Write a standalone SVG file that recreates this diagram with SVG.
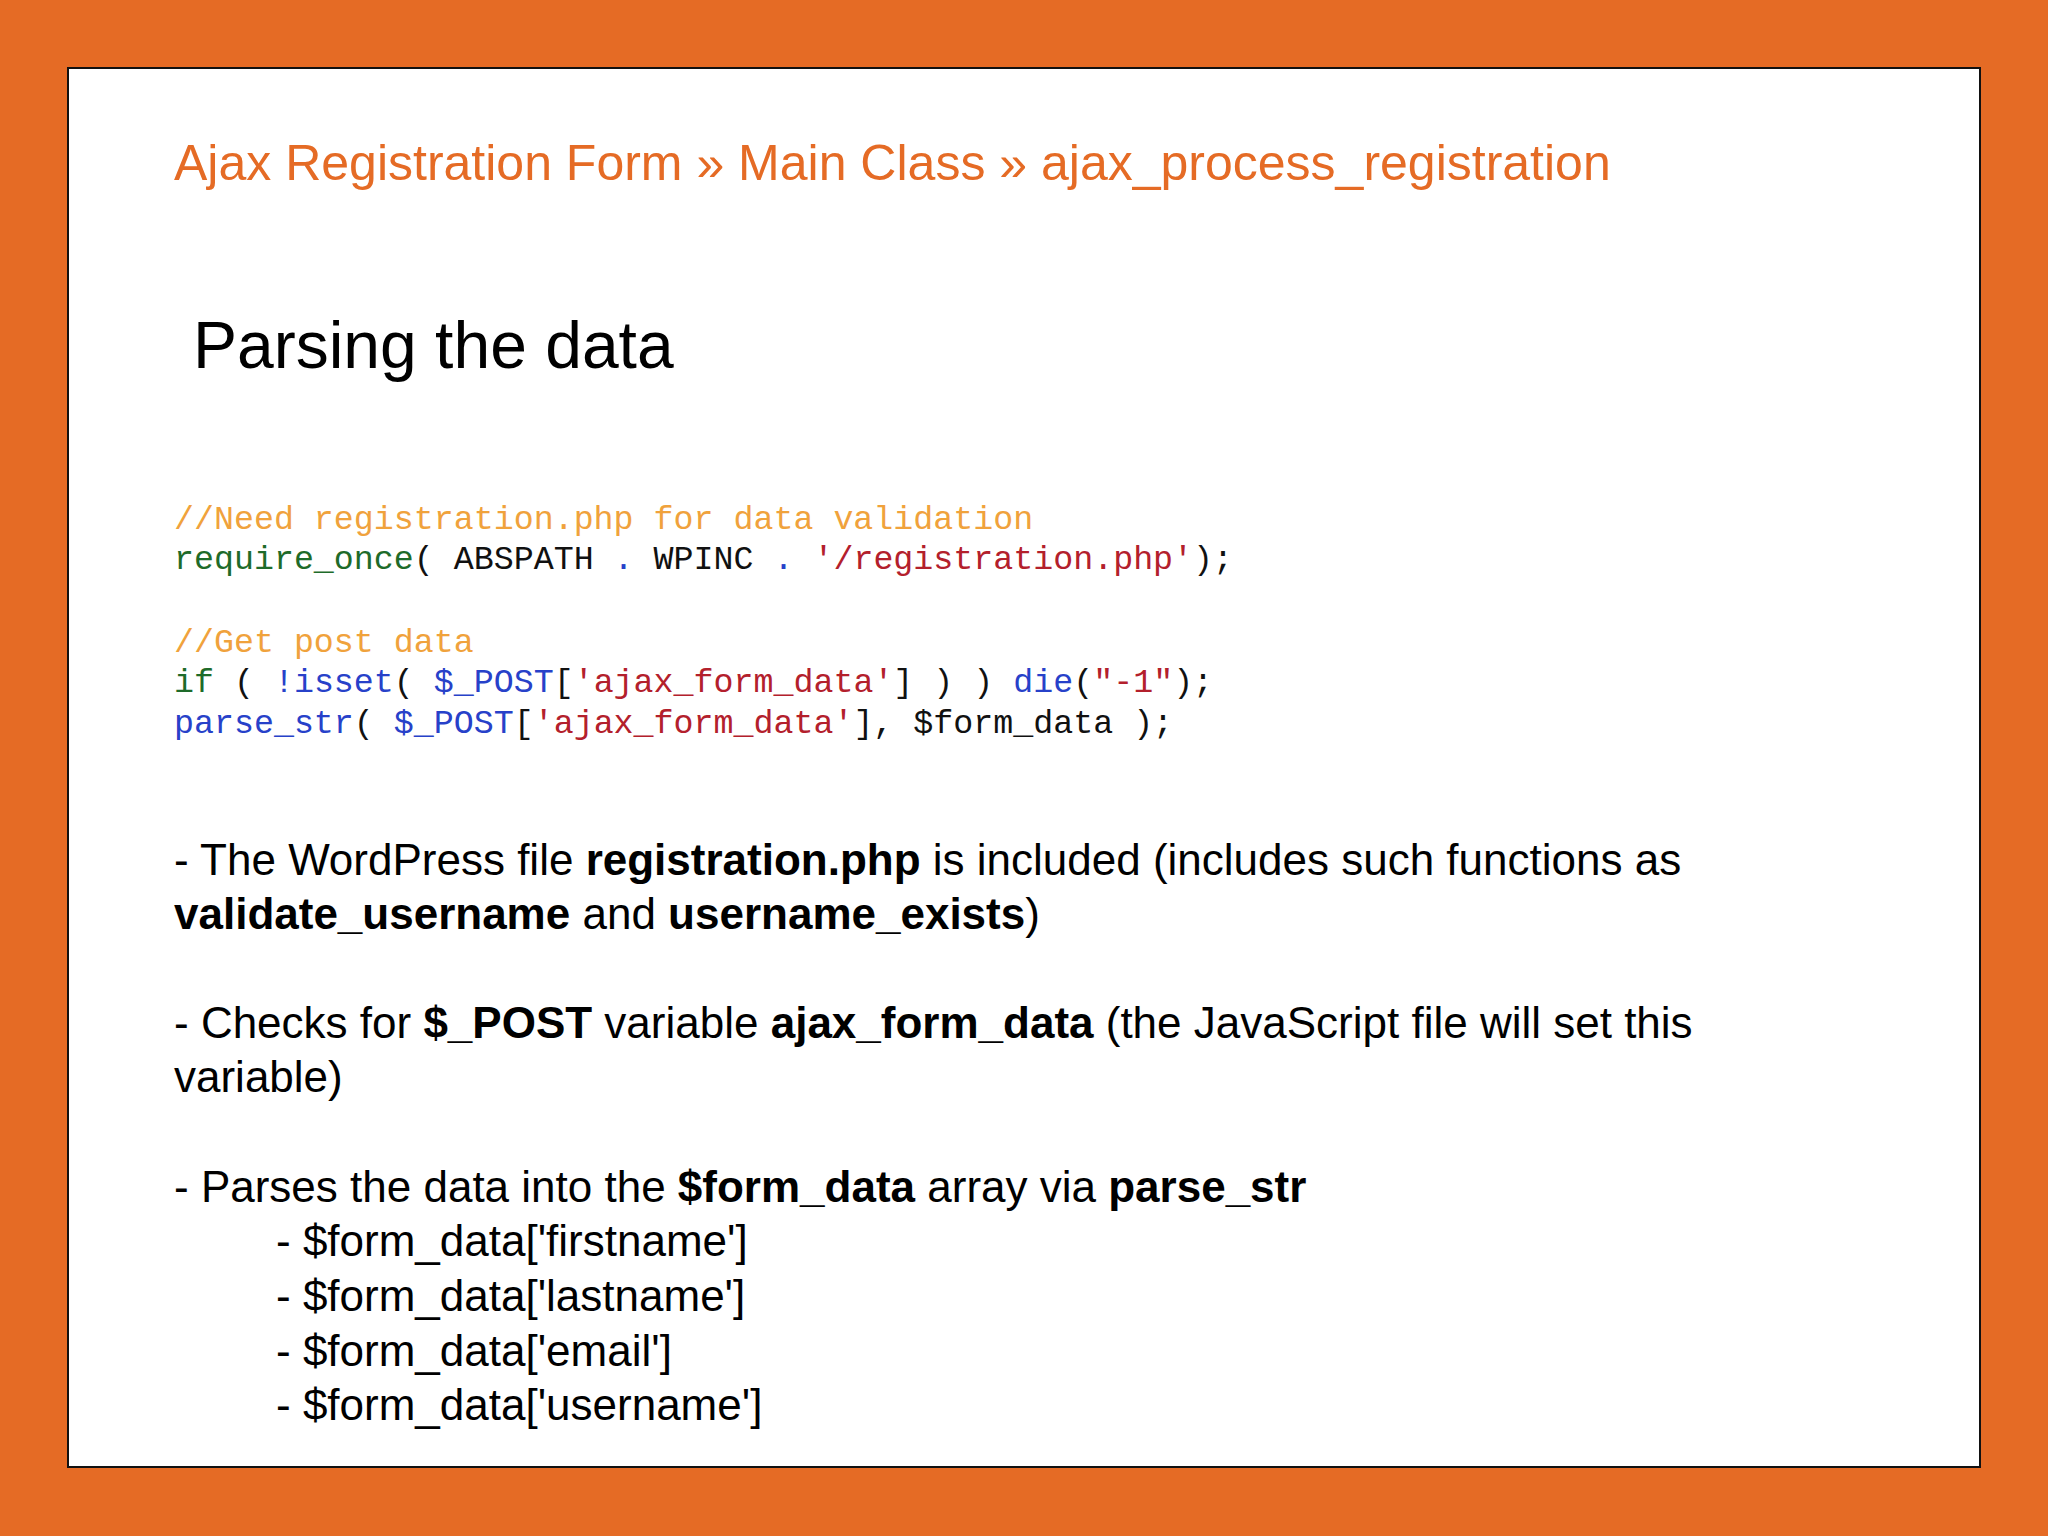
<svg xmlns="http://www.w3.org/2000/svg" width="2048" height="1536" viewBox="0 0 2048 1536">
<style>
.t{font-family:"Liberation Sans",Arial,sans-serif;fill:#000}
.c{font-family:"Liberation Mono","Courier New",monospace;font-size:33.3px;white-space:pre}
.cm{fill:#F0A23C}.g{fill:#1E6B2A}.b{fill:#2741C9}.r{fill:#B3202C}.k{fill:#111}
.bo{font-weight:bold}
</style>
<rect width="2048" height="1536" fill="#E56B25"/>
<rect x="68" y="68" width="1912" height="1399" fill="#fff" stroke="#111" stroke-width="2"/>
<g id="title"><text class="t" x="174" y="180" font-size="50" style="fill:#E56B25">Ajax Registration Form » Main Class » ajax_process_registration</text></g>
<g id="heading"><text class="t" x="193" y="368" font-size="66">Parsing the data</text></g>
<g id="code" class="c">
<text x="174" y="529" class="cm">//Need registration.php for data validation</text>
<text x="174" y="569"><tspan class="g">require_once</tspan><tspan class="k">( ABSPATH </tspan><tspan class="b">.</tspan><tspan class="k"> WPINC </tspan><tspan class="b">.</tspan><tspan class="k"> </tspan><tspan class="r">'/registration.php'</tspan><tspan class="k">);</tspan></text>
<text x="174" y="652" class="cm">//Get post data</text>
<text x="174" y="692"><tspan class="g">if</tspan><tspan class="k"> ( </tspan><tspan class="b">!isset</tspan><tspan class="k">( </tspan><tspan class="b">$_POST</tspan><tspan class="k">[</tspan><tspan class="r">'ajax_form_data'</tspan><tspan class="k">] ) ) </tspan><tspan class="b">die</tspan><tspan class="k">(</tspan><tspan class="r">"-1"</tspan><tspan class="k">);</tspan></text>
<text x="174" y="733"><tspan class="b">parse_str</tspan><tspan class="k">( </tspan><tspan class="b">$_POST</tspan><tspan class="k">[</tspan><tspan class="r">'ajax_form_data'</tspan><tspan class="k">], $form_data );</tspan></text>
</g>
<g id="bullets" class="t" font-size="44">
<text x="174" y="875">- The WordPress file <tspan class="bo">registration.php</tspan> is included (includes such functions as</text>
<text x="174" y="929"><tspan class="bo">validate_username</tspan> and <tspan class="bo">username_exists</tspan>)</text>
<text x="174" y="1038">- Checks for <tspan class="bo">$_POST</tspan> variable <tspan class="bo">ajax_form_data</tspan> (the JavaScript file will set this</text>
<text x="174" y="1092">variable)</text>
<text x="174" y="1202">- Parses the data into the <tspan class="bo">$form_data</tspan> array via <tspan class="bo">parse_str</tspan></text>
<text x="276" y="1256">- $form_data['firstname']</text>
<text x="276" y="1311">- $form_data['lastname']</text>
<text x="276" y="1366">- $form_data['email']</text>
<text x="276" y="1420">- $form_data['username']</text>
</g>
</svg>
